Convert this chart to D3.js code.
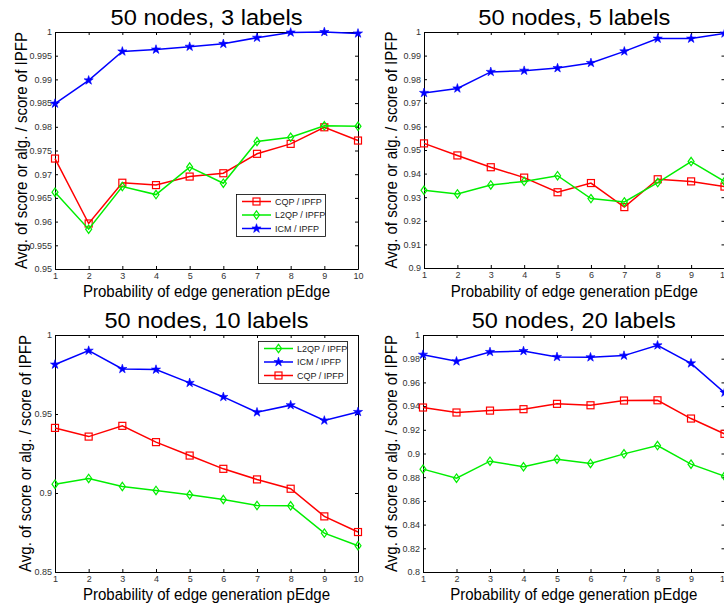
<!DOCTYPE html>
<html>
<head>
<meta charset="utf-8">
<script src="https://cdn.jsdelivr.net/npm/d3@7"></script>
<style>
  body { margin: 0; background: #fff; }
  svg { display: block; font-family: "Liberation Sans", Arial, sans-serif; }
  .tick text { fill: #333; font-size: 9px; }
</style>
</head>
<body>
<div id="chart"></div>
<script>
// data
var pEdge = [1, 2, 3, 4, 5, 6, 7, 8, 9, 10];

var cqp3  = [0.9733, 0.9596, 0.9682, 0.9677, 0.9695, 0.9702, 0.9743, 0.9764, 0.9799, 0.9771];
var l2qp3 = [0.9662, 0.9584, 0.9674, 0.9657, 0.9715, 0.9681, 0.9769, 0.9778, 0.9802, 0.9801];
var icm3  = [0.9849, 0.9898, 0.9959, 0.9963, 0.9969, 0.9975, 0.9988, 0.9999, 1.0000, 0.9997];

var cqp5  = [0.9528, 0.9477, 0.9427, 0.9383, 0.9321, 0.9360, 0.9258, 0.9376, 0.9367, 0.9345];
var l2qp5 = [0.9329, 0.9314, 0.9352, 0.9367, 0.9391, 0.9294, 0.9280, 0.9362, 0.9451, 0.9367];
var icm5  = [0.9742, 0.9761, 0.9831, 0.9836, 0.9847, 0.9869, 0.9918, 0.9972, 0.9972, 0.9994];

var cqp10  = [0.9412, 0.9357, 0.9425, 0.9322, 0.9237, 0.9153, 0.9086, 0.9027, 0.8852, 0.8753];
var l2qp10 = [0.9056, 0.9092, 0.9041, 0.9016, 0.8989, 0.8959, 0.8921, 0.8919, 0.8746, 0.8666];
var icm10  = [0.9813, 0.9901, 0.9785, 0.9781, 0.9697, 0.9608, 0.9511, 0.9556, 0.9459, 0.9513];

var cqp20  = [0.9388, 0.9346, 0.9362, 0.9374, 0.9419, 0.9407, 0.9447, 0.9449, 0.9295, 0.9166];
var l2qp20 = [0.8868, 0.8792, 0.8935, 0.8888, 0.8952, 0.8916, 0.8997, 0.9067, 0.8910, 0.8809];
var icm20  = [0.9834, 0.9778, 0.9857, 0.9865, 0.9815, 0.9812, 0.9826, 0.9913, 0.9761, 0.9514];

var titles = ["50 nodes, 3 labels", "50 nodes, 5 labels", "50 nodes, 10 labels", "50 nodes, 20 labels"];
var yTicks3  = [0.95, 0.955, 0.96, 0.965, 0.97, 0.975, 0.98, 0.985, 0.99, 0.995, 1];
var yTicks5  = [0.9, 0.91, 0.92, 0.93, 0.94, 0.95, 0.96, 0.97, 0.98, 0.99, 1];
var yTicks10 = [0.85, 0.9, 0.95, 1];
var yTicks20 = [0.8, 0.82, 0.84, 0.86, 0.88, 0.9, 0.92, 0.94, 0.96, 0.98, 1];
var xLabel = "Probability of edge generation pEdge";
var yLabel = "Avg. of score or alg. / score of IPFP";

var seriesNames = { cqp: "CQP / IPFP", l2qp: "L2QP / IPFP", icm: "ICM / IPFP" };
var colors = { cqp: "#ff0000", l2qp: "#00ee00", icm: "#0000ff" };

// panel layout (pixel boxes measured on the picture)
var panels = [
  { title: titles[0], box: [55, 32, 358, 269], yDom: [0.95, 1], yTicks: yTicks3, ylx: 27, titleY: 25, xly: 297,
    series: { cqp: cqp3, l2qp: l2qp3, icm: icm3 }, order: ["cqp", "l2qp", "icm"], legend: [236, 194] },
  { title: titles[1], box: [424, 32, 724.5, 268], yDom: [0.9, 1], yTicks: yTicks5, ylx: 397, titleY: 25, xly: 297,
    series: { cqp: cqp5, l2qp: l2qp5, icm: icm5 }, order: ["cqp", "l2qp", "icm"], legend: null },
  { title: titles[2], box: [55, 335, 358, 572], yDom: [0.85, 1], yTicks: yTicks10, ylx: 31, titleY: 328, xly: 600,
    series: { cqp: cqp10, l2qp: l2qp10, icm: icm10 }, order: ["l2qp", "icm", "cqp"], legend: [258, 341] },
  { title: titles[3], box: [423, 335, 724.5, 572], yDom: [0.8, 1], yTicks: yTicks20, ylx: 397, titleY: 328, xly: 600,
    series: { cqp: cqp20, l2qp: l2qp20, icm: icm20 }, order: ["l2qp", "icm", "cqp"], legend: null }
];

var svg = d3.select("#chart").append("svg")
  .attr("width", 724)
  .attr("height", 607);

function fmt(v) { return String(+v.toFixed(3)); }

function marker(sel, key) {
  if (key == "cqp") {
    sel.append("rect").attr("x", -3.5).attr("y", -3.5).attr("width", 7).attr("height", 7)
      .attr("fill", "none").attr("stroke", colors.cqp).attr("stroke-width", 1.2);
  } else if (key == "l2qp") {
    sel.append("path").attr("d", "M0,-4.2L3,0L0,4.2L-3,0Z")
      .attr("fill", "none").attr("stroke", colors.l2qp).attr("stroke-width", 1.2);
  } else {
    sel.append("path").attr("d", d3.symbol().type(d3.symbolStar).size(26)())
      .attr("fill", colors.icm).attr("stroke", colors.icm).attr("stroke-width", 0.6);
  }
}

panels.forEach(function (p) {
  var x0 = p.box[0], y0 = p.box[1], x1 = p.box[2], y1 = p.box[3];
  var x = d3.scaleLinear().domain([1, 10]).range([x0, x1]);
  var y = d3.scaleLinear().domain(p.yDom).range([y1, y0]);
  var g = svg.append("g");

  // axes, MATLAB style: box with inward ticks
  g.append("g").attr("transform", "translate(0," + y1 + ")")
    .call(d3.axisBottom(x).tickValues(pEdge).tickSizeInner(-3).tickSizeOuter(0).tickPadding(4).tickFormat(fmt));
  g.append("g").attr("transform", "translate(0," + y0 + ")")
    .call(d3.axisTop(x).tickValues(pEdge).tickSizeInner(-3).tickSizeOuter(0).tickFormat(""));
  g.append("g").attr("transform", "translate(" + x0 + ",0)")
    .call(d3.axisLeft(y).tickValues(p.yTicks).tickSizeInner(-3).tickSizeOuter(0).tickPadding(3).tickFormat(fmt));
  g.append("g").attr("transform", "translate(" + x1 + ",0)")
    .call(d3.axisRight(y).tickValues(p.yTicks).tickSizeInner(-3).tickSizeOuter(0).tickFormat(""));
  g.selectAll(".domain").attr("stroke", "#000");
  g.selectAll(".tick line").attr("stroke", "#000");

  // lines + markers
  p.order.forEach(function (key) {
    var vals = p.series[key];
    var line = d3.line().x(function (d, i) { return x(pEdge[i]); }).y(function (d) { return y(d); });
    g.append("path").datum(vals)
      .attr("d", line)
      .attr("fill", "none")
      .attr("stroke", colors[key])
      .attr("stroke-width", 1.5);
    g.selectAll(".m-" + key).data(vals).enter().append("g")
      .attr("class", "m-" + key)
      .attr("transform", function (d, i) { return "translate(" + x(pEdge[i]) + "," + y(d) + ")"; })
      .each(function () { marker(d3.select(this), key); });
  });

  // texts
  var cx = (x0 + Math.min(x1, 724.5)) / 2;
  g.append("text").attr("x", (x0 + x1) / 2).attr("y", p.titleY)
    .attr("text-anchor", "middle").attr("font-size", 22)
    .attr("textLength", p.title.length > 18 ? 204 : 192).attr("lengthAdjust", "spacingAndGlyphs")
    .text(p.title);
  g.append("text").attr("x", (x0 + x1) / 2).attr("y", p.xly)
    .attr("text-anchor", "middle").attr("font-size", 16)
    .attr("textLength", 247).attr("lengthAdjust", "spacingAndGlyphs")
    .text(xLabel);
  g.append("text")
    .attr("transform", "translate(" + p.ylx + "," + ((y0 + y1) / 2) + ") rotate(-90)")
    .attr("text-anchor", "middle").attr("font-size", 16)
    .attr("textLength", 237).attr("lengthAdjust", "spacingAndGlyphs")
    .text(yLabel);

  // legend
  if (p.legend) {
    var lg = g.append("g").attr("transform", "translate(" + p.legend[0] + "," + p.legend[1] + ")");
    lg.append("rect").attr("x", 0.5).attr("y", 0.5).attr("width", 89).attr("height", 42)
      .attr("fill", "#fff").attr("stroke", "#000").attr("stroke-width", 0.8);
    p.order.forEach(function (key, i) {
      var ey = 7.5 + i * 13.5;
      lg.append("line").attr("x1", 6).attr("x2", 35).attr("y1", ey).attr("y2", ey)
        .attr("stroke", colors[key]).attr("stroke-width", 1.5);
      marker(lg.append("g").attr("transform", "translate(20.5," + ey + ")"), key);
      lg.append("text").attr("x", 39).attr("y", ey + 3.2)
        .attr("font-size", 9).attr("fill", "#222")
        .text(seriesNames[key]);
    });
  }
});
</script>
</body>
</html>
